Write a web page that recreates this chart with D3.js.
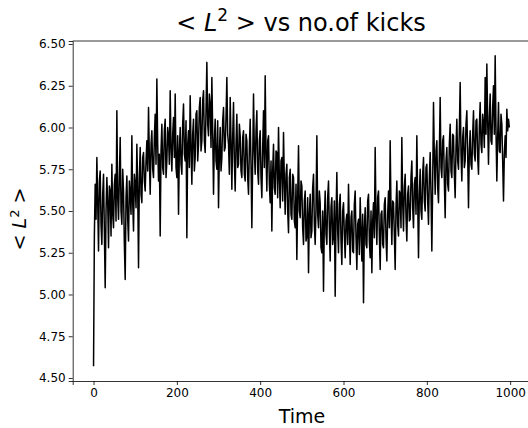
<!DOCTYPE html>
<html>
<head>
<meta charset="utf-8">
<script src="https://cdn.jsdelivr.net/npm/d3@7"></script>
<style>
  body { margin: 0; background: #fff; }
  text { font-family: "DejaVu Sans", sans-serif; }
</style>
</head>
<body>
<div id="holder"></div>
<script>
const width = 528;
const height = 428;

const step = 2;
const l2Values = [
  4.57, 5.35, 5.66, 5.45, 5.82, 5.55, 5.26, 5.68, 5.74, 5.42, 5.30, 5.60, 5.72, 5.38, 5.04, 5.50, 5.70, 5.55, 5.28, 5.65, 5.62, 5.35, 5.78, 5.48, 5.40, 5.66, 5.72, 5.44, 6.10, 5.58, 5.45, 5.70, 5.94, 5.50, 5.42, 5.75, 5.62, 5.30, 5.09, 5.58, 5.71, 5.45, 5.32, 5.68, 5.60, 5.48, 5.95, 5.55, 5.38, 5.72,
  5.66, 5.52, 5.90, 5.64, 5.16, 5.70, 5.88, 5.60, 5.55, 5.82, 5.85, 5.68, 5.62, 5.80, 5.92, 5.74, 6.12, 5.82, 5.60, 5.90, 5.98, 5.75, 5.70, 5.94, 6.08, 5.78, 6.29, 5.90, 5.68, 5.84, 5.35, 5.86, 6.02, 5.76, 5.72, 5.98, 6.05, 5.70, 5.80, 6.00, 5.95, 5.78, 6.22, 5.88, 5.74, 5.96, 6.06, 5.82, 6.20, 5.76,
  5.70, 5.95, 5.48, 5.86, 6.00, 5.78, 5.72, 6.02, 6.14, 5.84, 5.80, 6.04, 5.34, 5.90, 5.98, 5.76, 6.19, 5.88, 5.66, 5.96, 6.05, 5.74, 5.82, 6.08, 6.10, 5.80, 5.90, 6.12, 6.18, 5.86, 5.92, 6.16, 6.22, 5.92, 5.85, 6.10, 6.39, 6.02, 5.95, 6.20, 6.14, 5.88, 6.30, 5.98, 5.60, 5.92, 6.05, 5.80, 5.75, 6.04,
  5.52, 5.84, 6.00, 5.74, 5.82, 6.04, 6.12, 5.86, 5.88, 6.06, 6.30, 5.96, 5.90, 5.72, 6.18, 5.92, 5.63, 5.94, 6.15, 5.80, 5.62, 5.90, 6.08, 5.76, 5.78, 6.02, 5.95, 5.74, 5.70, 5.94, 5.98, 5.72, 5.68, 5.96, 5.92, 5.70, 5.60, 5.88, 6.05, 5.78, 5.40, 5.80, 6.20, 5.86, 5.72, 5.98, 6.10, 5.74, 5.66, 5.92,
  5.98, 5.70, 5.58, 5.88, 6.10, 5.76, 6.31, 5.84, 5.62, 5.92, 5.95, 5.66, 5.55, 5.80, 5.38, 5.74, 5.90, 5.64, 5.60, 5.86, 5.85, 5.58, 6.00, 5.70, 5.52, 5.80, 5.82, 5.56, 5.97, 5.68, 5.48, 5.72, 5.78, 5.50, 5.37, 5.70, 5.75, 5.48, 5.45, 5.72, 5.70, 5.44, 5.40, 5.66, 5.21, 5.58, 5.89, 5.50, 5.46, 5.68,
  5.65, 5.40, 5.30, 5.56, 5.62, 5.32, 5.35, 5.58, 5.13, 5.48, 5.60, 5.34, 5.38, 5.64, 5.72, 5.42, 5.30, 5.52, 5.95, 5.48, 5.40, 5.62, 5.55, 5.28, 5.25, 5.50, 5.02, 5.44, 5.62, 5.36, 5.30, 5.58, 5.68, 5.40, 5.20, 5.52, 5.58, 5.30, 5.35, 5.56, 4.99, 5.46, 5.73, 5.38, 5.25, 5.54, 5.60, 5.32, 5.18, 5.50,
  5.55, 5.36, 5.22, 5.44, 5.48, 5.30, 5.66, 5.40, 5.18, 5.46, 5.50, 5.26, 5.25, 5.54, 5.62, 5.34, 5.15, 5.42, 5.45, 5.24, 5.58, 5.38, 5.20, 5.48, 4.95, 5.40, 5.52, 5.30, 5.28, 5.56, 5.60, 5.32, 5.22, 5.50, 5.13, 5.44, 5.55, 5.34, 5.88, 5.46, 5.30, 5.58, 5.62, 5.36, 5.15, 5.48, 5.50, 5.30, 5.28, 5.54,
  5.58, 5.34, 5.20, 5.48, 5.62, 5.40, 5.92, 5.50, 5.30, 5.56, 5.55, 5.36, 5.15, 5.52, 5.68, 5.42, 5.35, 5.62, 5.60, 5.40, 5.94, 5.55, 5.38, 5.64, 5.72, 5.46, 5.32, 5.60, 5.65, 5.44, 5.45, 5.70, 5.80, 5.52, 5.40, 5.66, 5.70, 5.48, 5.95, 5.58, 5.22, 5.60, 5.75, 5.50, 5.45, 5.72, 5.82, 5.56, 5.50, 5.76,
  5.78, 5.56, 5.42, 5.70, 5.85, 5.60, 5.26, 5.66, 6.15, 5.82, 5.60, 5.86, 5.92, 5.64, 5.55, 5.84, 6.18, 5.76, 5.70, 5.92, 5.95, 5.68, 5.46, 5.80, 5.88, 5.66, 5.62, 5.90, 6.02, 5.74, 5.70, 5.96, 5.95, 5.72, 5.58, 5.88, 6.05, 5.80, 5.75, 5.98, 6.27, 5.84, 5.68, 5.94, 6.00, 5.76, 5.80, 6.02, 6.10, 5.84,
  5.52, 5.86, 5.98, 5.78, 5.75, 5.96, 6.10, 5.84, 5.80, 6.04, 6.05, 5.82, 5.72, 6.00, 6.15, 5.90, 5.85, 6.08, 6.02, 5.88, 6.30, 5.96, 6.38, 6.04, 5.78, 6.06, 6.20, 5.92, 5.90, 6.12, 6.25, 5.96, 6.43, 5.98, 5.68, 5.94, 6.15, 5.86, 5.85, 6.08, 6.02, 5.80, 5.56, 5.84, 5.95, 5.82, 6.11, 5.98, 6.05, 6.00
];
const xTicks = [0, 200, 400, 600, 800, 1000];
const yTicks = [4.50, 4.75, 5.00, 5.25, 5.50, 5.75, 6.00, 6.25, 6.50];

const dataset = l2Values.map((v, i) => [i * step, v]);

const svg = d3.select("#holder")
              .append("svg")
              .attr("width", width)
              .attr("height", height);

const xScale = d3.scaleLinear()
                 .domain([-50, 1050])
                 .range([72.7, 531]);
const yScale = d3.scaleLinear()
                 .domain([4.482, 6.518])
                 .range([381, 41]);

// data line
const line = d3.line()
               .x(d => xScale(d[0]))
               .y(d => yScale(d[1]));

svg.append("path")
   .datum(dataset)
   .attr("d", line)
   .attr("fill", "none")
   .attr("stroke", "#000")
   .attr("stroke-width", 1.5)
   .attr("stroke-linejoin", "round");

// top and right spines
svg.append("line")
   .attr("x1", xScale(-50)).attr("x2", xScale(1050))
   .attr("y1", yScale(6.518)).attr("y2", yScale(6.518))
   .attr("stroke", "#000").attr("stroke-width", 0.8);
svg.append("line")
   .attr("x1", xScale(1050)).attr("x2", xScale(1050))
   .attr("y1", yScale(6.518)).attr("y2", yScale(4.482))
   .attr("stroke", "#000").attr("stroke-width", 0.8);

const xAxis = d3.axisBottom(xScale)
                .tickValues(xTicks)
                .tickFormat(d3.format("d"))
                .tickSizeOuter(0)
                .tickSize(4)
                .tickPadding(3);
const yAxis = d3.axisLeft(yScale)
                .tickValues(yTicks)
                .tickFormat(d3.format(".2f"))
                .tickSizeOuter(0)
                .tickSize(4)
                .tickPadding(3);

const gx = svg.append("g")
              .attr("transform", `translate(0, ${yScale(4.482)})`)
              .call(xAxis);
const gy = svg.append("g")
              .attr("transform", `translate(${xScale(-50)}, 0)`)
              .call(yAxis);

[gx, gy].forEach(g => {
    g.attr("font-family", "DejaVu Sans, sans-serif").attr("font-size", 12);
    g.selectAll("path, line").attr("stroke", "#000").attr("stroke-width", 0.8);
    g.selectAll("text").attr("fill", "#000");
});

// title
const title = svg.append("text")
                 .attr("x", 301)
                 .attr("y", 31)
                 .attr("text-anchor", "middle")
                 .attr("font-size", 24)
                 .attr("fill", "#000");
title.append("tspan").text("< ");
title.append("tspan").attr("font-style", "italic").text("L");
title.append("tspan").attr("font-size", 17).attr("dy", -10).text("2");
title.append("tspan").attr("dy", 10).text(" >  vs no.of kicks");

// x label
svg.append("text")
   .attr("x", 302)
   .attr("y", 423)
   .attr("text-anchor", "middle")
   .attr("font-size", 19)
   .attr("fill", "#000")
   .text("Time");

// y label
const ylab = svg.append("text")
                .attr("transform", "translate(26, 219) rotate(-90)")
                .attr("text-anchor", "middle")
                .attr("font-size", 19)
                .attr("fill", "#000");
ylab.append("tspan").text("< ");
ylab.append("tspan").attr("font-style", "italic").text("L");
ylab.append("tspan").attr("font-size", 13).attr("dy", -7).text("2");
ylab.append("tspan").attr("dy", 7).text(" >");
</script>
</body>
</html>
